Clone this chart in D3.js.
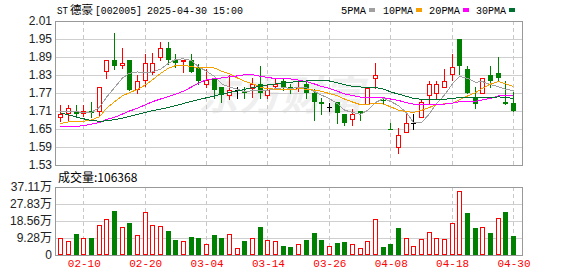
<!DOCTYPE html>
<html><head><meta charset="utf-8">
<script src="https://cdn.jsdelivr.net/npm/d3@7"></script>
<style>body{margin:0;background:#fff}svg{display:block}</style>
</head><body><svg id="c" width="578" height="276"></svg>
<script>
const dates = ["02-05","02-06","02-07","02-10","02-11","02-12","02-13","02-14","02-17","02-18","02-19","02-20","02-21","02-24","02-25","02-26","02-27","02-28",
"03-03","03-04","03-05","03-06","03-07","03-10","03-11","03-12","03-13","03-14","03-17","03-18","03-19","03-20","03-21","03-24","03-25","03-26","03-27","03-28","03-31",
"04-01","04-02","04-03","04-07","04-08","04-09","04-10","04-11","04-14","04-15","04-16","04-17","04-18","04-21","04-22","04-23","04-24","04-25","04-28","04-29","04-30"];
const open = [1.691,1.702,1.710,1.703,1.710,1.710,1.842,1.879,1.863,1.880,1.782,1.812,1.841,1.891,1.919,1.879,1.877,1.880,1.858,1.801,1.818,1.790,1.763,1.780,1.777,1.786,1.801,1.763,1.793,1.810,1.791,1.788,1.799,1.771,1.740,1.723,1.740,1.699,1.682,1.710,1.732,1.821,1.745,1.651,1.591,1.641,1.669,1.691,1.762,1.771,1.791,1.832,1.949,1.849,1.758,1.771,1.830,1.838,1.740,1.738];
const close = [1.699,1.719,1.701,1.710,1.702,1.789,1.879,1.861,1.870,1.781,1.809,1.869,1.869,1.919,1.880,1.871,1.881,1.841,1.810,1.812,1.780,1.763,1.780,1.780,1.769,1.799,1.771,1.779,1.801,1.791,1.782,1.790,1.771,1.741,1.732,1.723,1.702,1.669,1.699,1.702,1.788,1.830,1.742,1.649,1.629,1.669,1.669,1.740,1.799,1.799,1.809,1.858,1.860,1.771,1.732,1.819,1.810,1.821,1.732,1.710];
const high = [1.730,1.730,1.730,1.729,1.740,1.789,1.879,1.969,1.919,1.880,1.829,1.899,1.902,1.940,1.941,1.901,1.881,1.899,1.868,1.849,1.821,1.790,1.830,1.791,1.790,1.819,1.860,1.799,1.819,1.821,1.801,1.810,1.810,1.782,1.752,1.738,1.740,1.699,1.716,1.710,1.788,1.871,1.754,1.669,1.652,1.701,1.699,1.749,1.810,1.810,1.849,1.899,1.949,1.860,1.790,1.819,1.860,1.890,1.810,1.774];
const low = [1.677,1.679,1.690,1.693,1.691,1.693,1.821,1.851,1.852,1.781,1.771,1.793,1.832,1.880,1.868,1.857,1.840,1.841,1.801,1.791,1.752,1.741,1.751,1.752,1.752,1.757,1.752,1.752,1.782,1.779,1.771,1.777,1.752,1.680,1.701,1.710,1.671,1.662,1.662,1.680,1.732,1.788,1.738,1.649,1.571,1.641,1.649,1.691,1.732,1.752,1.791,1.812,1.832,1.771,1.721,1.771,1.791,1.810,1.732,1.710];
const ma5 = [1.708,1.707,1.707,1.706,1.706,1.722,1.756,1.788,1.820,1.836,1.840,1.838,1.840,1.849,1.869,1.882,1.884,1.878,1.857,1.843,1.825,1.801,1.789,1.783,1.774,1.778,1.779,1.779,1.784,1.788,1.785,1.789,1.787,1.775,1.763,1.751,1.734,1.713,1.705,1.699,1.712,1.738,1.752,1.742,1.728,1.704,1.672,1.671,1.701,1.735,1.763,1.801,1.825,1.819,1.806,1.808,1.798,1.791,1.783,1.778];
const ma10 = [1.668,1.674,1.675,1.676,1.680,1.691,1.719,1.741,1.761,1.771,1.782,1.797,1.814,1.835,1.853,1.861,1.861,1.859,1.853,1.856,1.853,1.843,1.834,1.820,1.809,1.801,1.790,1.784,1.783,1.781,1.781,1.784,1.783,1.779,1.776,1.768,1.761,1.750,1.740,1.731,1.732,1.736,1.733,1.724,1.713,1.708,1.705,1.712,1.722,1.731,1.734,1.736,1.748,1.760,1.771,1.786,1.800,1.808,1.801,1.792];
const ma20 = [1.657,1.658,1.659,1.661,1.666,1.672,1.682,1.689,1.700,1.710,1.719,1.731,1.741,1.750,1.758,1.766,1.776,1.790,1.803,1.814,1.818,1.820,1.824,1.827,1.831,1.831,1.826,1.822,1.818,1.819,1.817,1.813,1.808,1.800,1.792,1.785,1.776,1.767,1.762,1.756,1.756,1.756,1.754,1.750,1.745,1.738,1.733,1.731,1.731,1.731,1.733,1.736,1.741,1.742,1.742,1.747,1.752,1.760,1.761,1.762];
const ma30 = [1.704,1.697,1.690,1.684,1.678,1.676,1.677,1.681,1.686,1.692,1.699,1.705,1.711,1.716,1.722,1.728,1.735,1.742,1.748,1.754,1.760,1.766,1.772,1.777,1.782,1.788,1.793,1.797,1.800,1.803,1.806,1.808,1.810,1.811,1.812,1.810,1.804,1.798,1.792,1.790,1.789,1.788,1.783,1.774,1.766,1.759,1.752,1.749,1.748,1.748,1.749,1.752,1.755,1.755,1.753,1.754,1.755,1.757,1.755,1.752];
const volume = [9.1,7.6,11.5,9.1,9.1,16.2,19.5,24.0,15.1,17.5,10.7,23.3,16.2,15.6,13.1,8.2,7.6,9.8,9.3,6.0,10.9,9.3,11.5,3.8,7.6,9.3,15.3,8.2,7.6,4.9,4.4,6.0,8.2,12.0,8.2,4.9,6.5,7.1,6.0,3.8,7.6,19.6,4.4,6.0,14.7,9.1,4.9,8.5,12.6,9.1,8.5,17.5,34.7,22.9,14.7,15.1,12.0,20.0,23.5,10.64];
const volUp = [1,1,0,1,0,1,1,0,1,0,1,1,1,1,0,0,1,0,0,1,0,0,1,1,0,1,0,1,1,0,0,1,0,0,0,1,0,0,1,1,1,1,0,0,0,1,1,1,1,1,1,1,1,0,0,1,0,1,0,0];
const priceTicks = [1.53,1.59,1.65,1.71,1.77,1.83,1.89,1.95,2.01];
const volTicks = [0,9.28,18.56,27.83,37.11];
const volTickLabels = ["0","9.28万","18.56万","27.83万","37.11万"];
const dateTicks = ["02-10","02-20","03-04","03-14","03-26","04-08","04-18","04-30"];
const maNames = ["5PMA","10PMA","20PMA","30PMA"];
const maColors = ["#a0a0a0","#f5a000","#ff00ff","#007030"];
const titleParts = ["ST","德豪","[002005]","2025-04-30 15:00"];
const volTitle = "成交量:106368";

const L=55, R=522, PT=21, PB=165, VT=187, VB=255;
const RED="#ff0000", GREEN="#008000";
const svg = d3.select("#c");
const x = d3.scalePoint().domain(dates).range([60.3,513]);
const y = d3.scaleLinear().domain([1.53,2.01]).range([PB,PT]);
const yv = d3.scaleLinear().domain([0,37.11]).range([VB,VT]);
const px = d => Math.round(x(d));
const mono = "'Liberation Mono','DejaVu Sans Mono',monospace";
const cjk = "'Noto Sans CJK SC',sans-serif";
const sans = "'Liberation Sans',Arial,'Noto Sans CJK SC',sans-serif";

// watermark
svg.append("text").attr("x",198).attr("y",110).text("东方财富")
  .attr("font-family",cjk).attr("font-weight","bold").attr("font-style","italic")
  .attr("font-size",40).attr("fill","#efefef").attr("textLength",165);

// header
const tx=[57,70,95,147], tw=[11,23,47,96], tf=[mono,cjk,mono,mono];
titleParts.forEach((s,i)=>{
  svg.append("text").attr("x",tx[i]).attr("y",14).text(s)
    .attr("font-family",tf[i]).attr("font-size",i===1?11.5:11.5).attr("fill","#000")
    .attr("textLength",tw[i]).attr("lengthAdjust","spacingAndGlyphs");
});
const legX = [341,383,429,476], legW=[25,30,31,30];
maNames.forEach((n,i)=>{
  svg.append("text").attr("x",legX[i]).attr("y",14).text(n)
    .attr("font-family",mono).attr("font-size",11).attr("fill","#000")
    .attr("textLength",legW[i]).attr("lengthAdjust","spacingAndGlyphs");
  svg.append("rect").attr("x",legX[i]+legW[i]+3).attr("y",8).attr("width",6).attr("height",4).attr("fill",maColors[i]);
});

const g = svg.append("g").attr("shape-rendering","crispEdges");
g.selectAll(".hp").data(priceTicks).join("line")
  .attr("x1",L).attr("x2",R).attr("y1",d=>Math.round(y(d))+0.5).attr("y2",d=>Math.round(y(d))+0.5)
  .attr("stroke","#cfcfcf");
g.selectAll(".hv").data(volTicks).join("line")
  .attr("x1",L).attr("x2",R).attr("y1",d=>Math.round(yv(d))+0.5).attr("y2",d=>Math.round(yv(d))+0.5)
  .attr("stroke","#cfcfcf");
dateTicks.forEach(d=>{
  [[PT,PB],[VT,VB]].forEach(([a,b])=>{
    g.append("line").attr("x1",px(d)+0.5).attr("x2",px(d)+0.5).attr("y1",a).attr("y2",b)
      .attr("stroke","#c8c8c8").attr("stroke-dasharray","4,3");
  });
});
g.append("rect").attr("x",L+0.5).attr("y",PT+0.5).attr("width",R-L).attr("height",PB-PT).attr("fill","none").attr("stroke","#999");
g.append("rect").attr("x",L+0.5).attr("y",VT+0.5).attr("width",R-L).attr("height",VB-VT).attr("fill","none").attr("stroke","#999");

const ay = svg.append("g").attr("transform",`translate(${L-3},0)`)
  .call(d3.axisLeft(y).tickValues(priceTicks).tickFormat(d3.format(".2f")).tickSize(0).tickPadding(0));
ay.select(".domain").remove();
ay.selectAll("text").attr("font-family",sans).attr("font-size",12).attr("fill","#222");
const av = svg.append("g").attr("transform",`translate(${L-3},0)`)
  .call(d3.axisLeft(yv).tickValues(volTicks).tickFormat((d,i)=>volTickLabels[i]).tickSize(0).tickPadding(0));
av.select(".domain").remove();
av.selectAll("text").attr("font-family",sans).attr("font-size",12).attr("fill","#222");
const ax = svg.append("g").attr("transform",`translate(0,${VB+4})`)
  .call(d3.axisBottom(x).tickValues(dateTicks).tickSize(0).tickPadding(0));
ax.select(".domain").remove();
ax.selectAll("text").attr("font-family",mono).attr("font-size",11).attr("fill",RED).attr("dy","0.75em").attr("x",0.5);

svg.append("text").attr("x",58).attr("y",182).text(volTitle)
  .attr("font-family",cjk).attr("font-size",12).attr("fill","#000");

const cg = svg.append("g").attr("shape-rendering","crispEdges");
dates.forEach((d,i)=>{
  const cx = px(d);
  const o=open[i], c=close[i];
  const col = c>o?RED:(c<o?GREEN:"#000");
  const yH=Math.round(y(high[i])), yL=Math.round(y(low[i]));
  const yT=Math.round(y(Math.max(o,c))), yB=Math.round(y(Math.min(o,c)));
  if (c>o){
    cg.append("line").attr("x1",cx+0.5).attr("x2",cx+0.5).attr("y1",yH).attr("y2",yT).attr("stroke",col);
    cg.append("line").attr("x1",cx+0.5).attr("x2",cx+0.5).attr("y1",yB).attr("y2",yL+1).attr("stroke",col);
    cg.append("rect").attr("x",cx-2+0.5).attr("y",yT+0.5).attr("width",4).attr("height",Math.max(1,yB-yT)).attr("fill","#fff").attr("stroke",col);
  } else {
    cg.append("line").attr("x1",cx+0.5).attr("x2",cx+0.5).attr("y1",yH).attr("y2",yL+1).attr("stroke",col);
    cg.append("rect").attr("x",cx-2).attr("y",yT).attr("width",5).attr("height",Math.max(1,yB-yT)).attr("fill",col);
  }
});
[ma5,ma10,ma20,ma30].forEach((arr,k)=>{
  svg.append("path").datum(arr)
    .attr("d",d3.line().x((v,i)=>px(dates[i])+0.5).y(v=>y(v)))
    .attr("fill","none").attr("stroke",maColors[k]).attr("stroke-width",1).attr("shape-rendering","crispEdges");
});
const vg = svg.append("g").attr("shape-rendering","crispEdges");
dates.forEach((d,i)=>{
  const cx=px(d), top=Math.round(yv(volume[i]));
  if (volUp[i]) vg.append("rect").attr("x",cx-2+0.5).attr("y",top+0.5).attr("width",4).attr("height",VB-top-1).attr("fill","#fff").attr("stroke",RED);
  else vg.append("rect").attr("x",cx-2).attr("y",top).attr("width",5).attr("height",VB-top).attr("fill",GREEN);
});
</script></body></html>
